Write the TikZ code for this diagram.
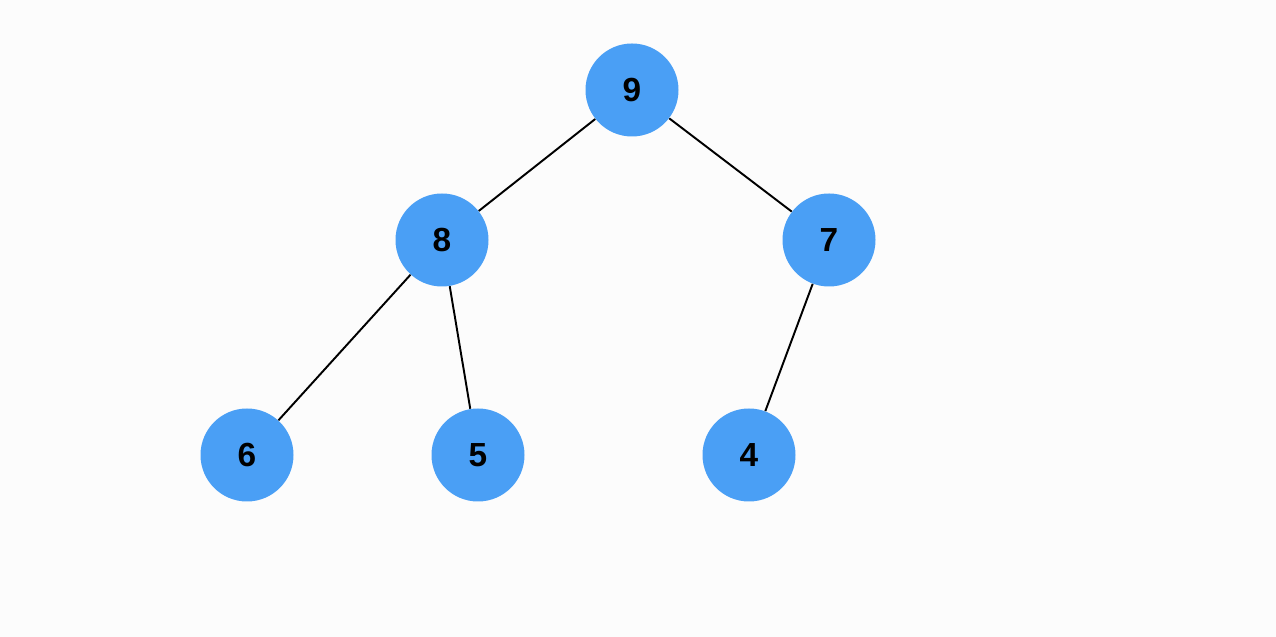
\documentclass[tikz,border=0pt]{standalone}
\usepackage{fontspec}
\setmainfont{Liberation Sans}
\usepackage{xcolor}
\definecolor{heapblue}{HTML}{4A9FF5}
\usetikzlibrary{positioning}

\begin{document}
\begin{tikzpicture}[
    key/.style={circle, fill=heapblue, minimum size=1.86cm, inner sep=0pt, font=\fontsize{19}{21}\selectfont\bfseries},
    edge/.style={draw=black, line width=1.1pt}
]
    \fill[white!99!black] (0,0) rectangle (25.52,12.74);
    \node[key] (n9) at (12.64,10.94) {9};
    \node[key] (n8) at (8.84,7.94) {8};
    \node[key] (n7) at (16.58,7.94) {7};
    \node[key] (n6) at (4.94,3.64) {6};
    \node[key] (n5) at (9.56,3.64) {5};
    \node[key] (n4) at (14.98,3.64) {4};

    \draw[edge] (n9) -- (n8);
    \draw[edge] (n9) -- (n7);
    \draw[edge] (n8) -- (n6);
    \draw[edge] (n8) -- (n5);
    \draw[edge] (n7) -- (n4);
\end{tikzpicture}
\end{document}
